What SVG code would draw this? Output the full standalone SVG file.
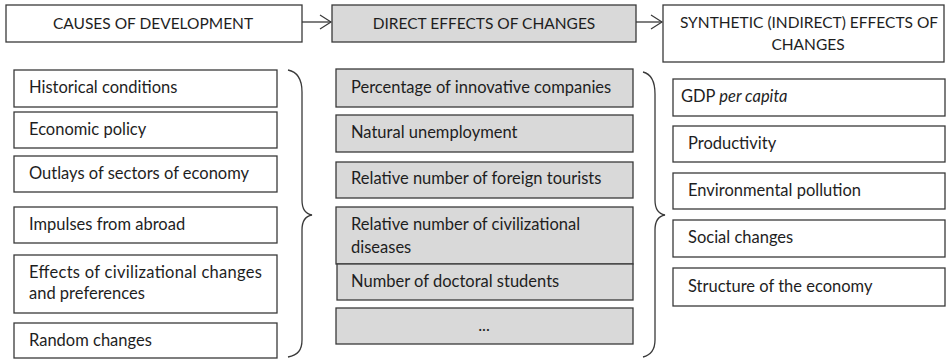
<svg xmlns="http://www.w3.org/2000/svg" width="947" height="360" viewBox="0 0 947 360">
  <style>
    .box { fill: #ffffff; stroke: #3a3a3a; stroke-width: 1.3; }
    .grey { fill: #d9d9d9; }
    .t { font-family: Lato, "Liberation Sans", sans-serif; font-size: 16.5px; fill: #1e1e1e; }
    .h { font-size: 15.5px; }
    .c { text-anchor: middle; }
    .line { fill: none; stroke: #3a3a3a; stroke-width: 1.3; }
  </style>
  <defs>
    <marker id="open" viewBox="0 0 14 16" refX="12" refY="8" markerWidth="14" markerHeight="16" markerUnits="userSpaceOnUse" orient="auto">
      <path d="M1,1 L12,8 L1,15" fill="none" stroke="#3a3a3a" stroke-width="1.2"/>
    </marker>
  </defs>

  <!-- column headers -->
  <g id="causes">
    <rect class="box" x="6" y="5" width="296" height="37"/>
    <text class="t h c" x="153" y="29">CAUSES OF DEVELOPMENT</text>
  </g>
  <g id="direct">
    <rect class="box grey" x="332" y="5" width="304" height="37"/>
    <text class="t h c" x="484" y="29">DIRECT EFFECTS OF CHANGES</text>
  </g>
  <g id="synthetic">
    <rect class="box" x="663" y="5" width="281" height="57"/>
    <text class="t h c" x="809" y="28">SYNTHETIC (INDIRECT) EFFECTS OF</text>
    <text class="t h c" x="808" y="50">CHANGES</text>
  </g>

  <!-- causes column -->
  <g id="historical">
    <rect class="box" x="14" y="70" width="263" height="37"/>
    <text class="t" x="29" y="93">Historical conditions</text>
  </g>
  <g id="policy">
    <rect class="box" x="14" y="112" width="263" height="36"/>
    <text class="t" x="29" y="135">Economic policy</text>
  </g>
  <g id="outlays">
    <rect class="box" x="14" y="156" width="263" height="36"/>
    <text class="t" x="29" y="179">Outlays of sectors of economy</text>
  </g>
  <g id="impulses">
    <rect class="box" x="14" y="207" width="263" height="36"/>
    <text class="t" x="29" y="230">Impulses from abroad</text>
  </g>
  <g id="civilizational">
    <rect class="box" x="14" y="255" width="263" height="58"/>
    <text class="t" x="29" y="278" textLength="233" lengthAdjust="spacing">Effects of civilizational changes</text>
    <text class="t" x="29" y="299">and preferences</text>
  </g>
  <g id="random">
    <rect class="box" x="14" y="323" width="263" height="35"/>
    <text class="t" x="29" y="346">Random changes</text>
  </g>

  <!-- direct effects column -->
  <g id="innovative">
    <rect class="box grey" x="336" y="69" width="297" height="38"/>
    <text class="t" x="351" y="93">Percentage of innovative companies</text>
  </g>
  <g id="unemployment">
    <rect class="box grey" x="336" y="115" width="297" height="37"/>
    <text class="t" x="351" y="138">Natural unemployment</text>
  </g>
  <g id="tourists">
    <rect class="box grey" x="336" y="162" width="297" height="36"/>
    <text class="t" x="351" y="184">Relative number of foreign tourists</text>
  </g>
  <g id="diseases">
    <rect class="box grey" x="336" y="207" width="297" height="57"/>
    <text class="t" x="351" y="230">Relative number of civilizational</text>
    <text class="t" x="351" y="253">diseases</text>
  </g>
  <g id="doctoral">
    <rect class="box grey" x="337" y="264" width="296" height="36"/>
    <text class="t" x="351" y="287">Number of doctoral students</text>
  </g>
  <g id="more">
    <rect class="box grey" x="336" y="308" width="297" height="36"/>
    <text class="t c" x="484" y="331">...</text>
  </g>

  <!-- synthetic effects column -->
  <g id="gdp">
    <rect class="box" x="673" y="79" width="272" height="37"/>
    <text class="t" x="681" y="102">GDP <tspan font-style="italic">per capita</tspan></text>
  </g>
  <g id="productivity">
    <rect class="box" x="673" y="126" width="272" height="36"/>
    <text class="t" x="688" y="149">Productivity</text>
  </g>
  <g id="pollution">
    <rect class="box" x="673" y="173" width="272" height="36"/>
    <text class="t" x="688" y="196">Environmental pollution</text>
  </g>
  <g id="social">
    <rect class="box" x="673" y="220" width="272" height="37"/>
    <text class="t" x="688" y="243">Social changes</text>
  </g>
  <g id="structure">
    <rect class="box" x="673" y="268" width="272" height="38"/>
    <text class="t" x="688" y="292">Structure of the economy</text>
  </g>

  <!-- braces gathering each column -->
  <g id="braces">
    <path class="line" d="M288,70 C298,72 302,80 302,92 L302,200 C302,209 306,214 312,215 C306,216 302,221 302,230 L302,340 C302,350 298,355 288,357"/>
    <path class="line" d="M643,72 C651,74 655,82 655,94 L655,200 C655,209 659,214 665,215 C659,216 655,221 655,230 L655,340 C655,350 651,355 643,357"/>
  </g>

  <!-- connectors between headers -->
  <g id="connectors">
    <line class="line" x1="302" y1="22" x2="331" y2="22" marker-end="url(#open)"/>
    <line class="line" x1="636" y1="22" x2="662" y2="22" marker-end="url(#open)"/>
  </g>
</svg>
